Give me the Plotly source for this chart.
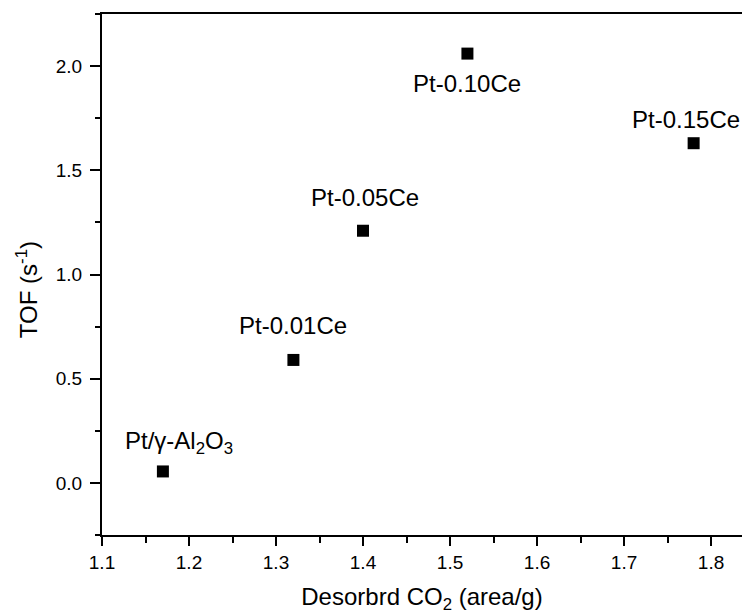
import plotly.graph_objects as go

# Data
samples = ["Pt/γ-Al<sub>2</sub>O<sub>3</sub>", "Pt-0.01Ce", "Pt-0.05Ce", "Pt-0.10Ce", "Pt-0.15Ce"]
desorbed_co2 = [1.17, 1.32, 1.40, 1.52, 1.78]
tof = [0.055, 0.59, 1.21, 2.06, 1.63]

x_ticks = [1.1, 1.2, 1.3, 1.4, 1.5, 1.6, 1.7, 1.8]
y_ticks = [0.0, 0.5, 1.0, 1.5, 2.0]

x_title = "Desorbrd CO<sub>2</sub> (area/g)"
y_title = "TOF (s<sup>-1</sup>)"

# label pixel offsets (style only)
label_dx = [16, 0, 2, 0, -8]
label_dy = [29, 34, 33, -30, 24]

FONT = "Liberation Sans, Arial, sans-serif"

fig = go.Figure()
fig.add_trace(go.Scatter(
    x=desorbed_co2, y=tof, mode="markers",
    marker=dict(symbol="square", size=12, color="black", line=dict(width=0)),
    showlegend=False, hoverinfo="skip",
))

for name, xv, yv, dx, dy in zip(samples, desorbed_co2, tof, label_dx, label_dy):
    fig.add_annotation(x=xv, y=yv, text=name, showarrow=False,
                       xshift=dx, yshift=dy,
                       font=dict(family=FONT, size=24, color="black"))

# y-axis title placed as an annotation (slightly below the plot centre, as in the reference)
fig.add_annotation(x=0, y=0.47, xref="paper", yref="paper", text=y_title,
                   textangle=-90, showarrow=False, xanchor="center", yanchor="middle",
                   xshift=-75, font=dict(family=FONT, size=24, color="black"))

fig.update_layout(
    width=742, height=616,
    margin=dict(l=102, r=0, t=14, b=81),
    paper_bgcolor="white", plot_bgcolor="white",
    font=dict(family=FONT, color="black"),
)
fig.update_xaxes(
    range=[1.1, 1.8356], tickvals=x_ticks, ticktext=[f"{v:.1f}" for v in x_ticks],
    ticks="outside", ticklen=9, tickwidth=2, tickcolor="black",
    minor=dict(dtick=0.05, tick0=1.1, ticks="outside", ticklen=6, tickwidth=2, tickcolor="black"),
    showline=True, linewidth=2, linecolor="black", mirror=True,
    showgrid=False, zeroline=False,
    tickfont=dict(family=FONT, size=19, color="black"),
    title=dict(text=x_title, font=dict(family=FONT, size=24, color="black"), standoff=16),
)
fig.update_yaxes(
    range=[-0.25, 2.25], tickvals=y_ticks, ticktext=[f"{v:.1f}" for v in y_ticks],
    ticks="outside", ticklen=10, tickwidth=2, tickcolor="black",
    minor=dict(dtick=0.25, tick0=0, ticks="outside", ticklen=5, tickwidth=2, tickcolor="black"),
    showline=True, linewidth=2, linecolor="black", mirror=False,
    showgrid=False, zeroline=False, ticklabelstandoff=4,
    tickfont=dict(family=FONT, size=19, color="black"),
)

fig.write_html("out.html")
